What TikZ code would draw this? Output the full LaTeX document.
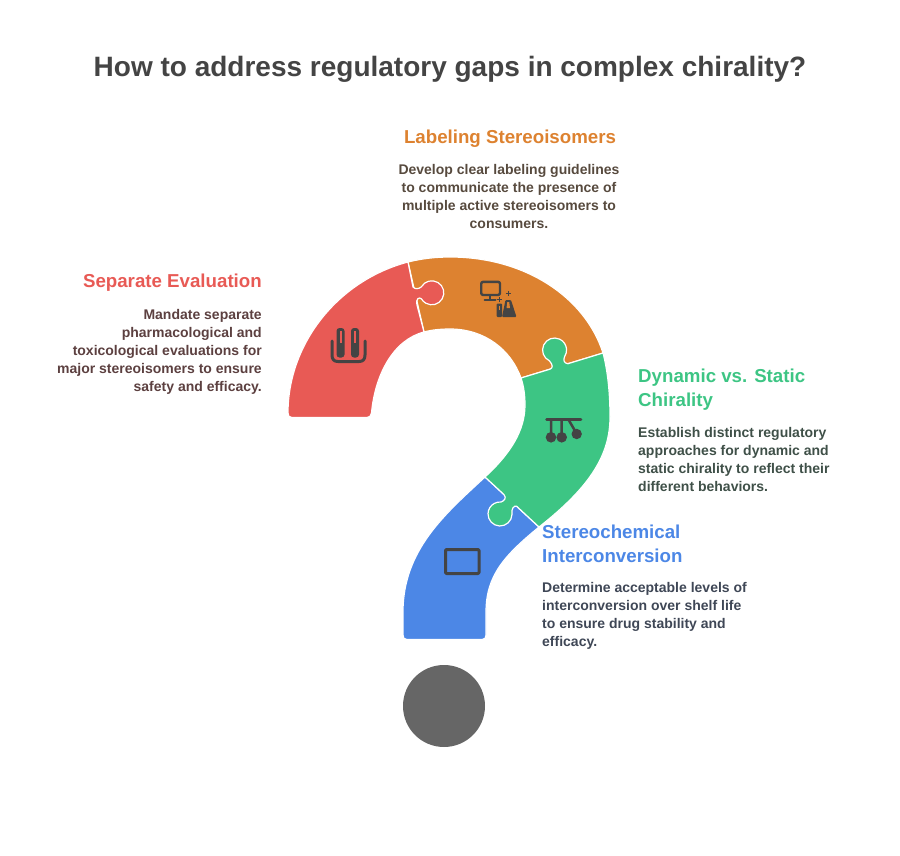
\documentclass[tikz,border=0pt]{standalone}
\usepackage{fontspec}
\setmainfont{Liberation Sans}
\definecolor{redpart}{HTML}{E85A55}
\definecolor{orangepart}{HTML}{DD8230}
\definecolor{greenpart}{HTML}{3DC584}
\definecolor{bluepart}{HTML}{4C87E6}
\definecolor{icondark}{HTML}{444444}
\definecolor{dotgray}{HTML}{666666}
\definecolor{redtext}{HTML}{5C4040}
\definecolor{orangetext}{HTML}{574A3E}
\definecolor{greentext}{HTML}{3F5048}
\definecolor{bluetext}{HTML}{3F4756}

\begin{document}
\begin{tikzpicture}[x=1pt,y=-1pt,
        piece/.style={draw=white,line width=1.2pt,line join=round},
        icon/.style={draw=icondark,line width=2.5pt,line cap=round,line join=round},
        iconfill/.style={fill=icondark,draw=none},
        heading/.style={inner sep=0pt,font=\fontsize{18.7}{24}\selectfont\bfseries},
        body/.style={inner sep=0pt,font=\fontsize{14}{18}\selectfont\bfseries}]
        \useasboundingbox (0,0) rectangle (900,856);

        \node[inner sep=0pt,text=icondark,font=\fontsize{28}{34}\selectfont\bfseries] (title) at (450,69) {How to address regulatory gaps in complex chirality?};

        % orange piece
        \draw[piece,fill=orangepart] (408,262) .. controls (422,258.5) and (436,257) .. (450,257)
            .. controls (525,257) and (585,297) .. (603,353)
            -- (521,378)
            .. controls (511,350) and (485,329) .. (450,329)
            .. controls (440,329) and (431,330) .. (424,332) -- cycle;

        % red piece
        \draw[piece,fill=redpart] (288,413) .. controls (288,344) and (337.4,280.7) .. (408,262)
            -- (413,287) .. controls (415,289.5) and (419,289) .. (421.4,286.8)
            arc[start angle=-150,end angle=150,radius=12]
            .. controls (419.5,297) and (415.5,298) .. (417,305)
            -- (424,332)
            .. controls (393,340) and (375,375) .. (371.5,413)
            .. controls (371,416) and (369.5,417.5) .. (367,417.5)
            -- (292,417.5) .. controls (289,417.5) and (288,416) .. (288,413) -- cycle;

        % blue piece
        \draw[piece,fill=bluepart] (485,477) -- (539,527)
            .. controls (505,555) and (486,575) .. (486,612)
            -- (486,635) .. controls (486,638) and (485,639.5) .. (482,639.5)
            -- (407,639.5) .. controls (404,639.5) and (403,638) .. (403,635)
            -- (403,612) .. controls (403,550) and (445,514) .. (485,477) -- cycle;

        % green piece
        \draw[piece,fill=greenpart] (521,378) -- (550,369.2)
            .. controls (553,368) and (553,365) .. (549.5,360.9)
            arc[start angle=115,end angle=393,radius=12]
            .. controls (563,360) and (564,363.5) .. (568,363.7)
            -- (603,353)
            .. controls (608,372) and (610,395) .. (610,417)
            .. controls (610,455) and (590,487) .. (539,527)
            -- (516.7,506.3)
            .. controls (514,505) and (511,509) .. (512,514.4)
            arc[start angle=2,end angle=275,radius=12]
            .. controls (504,501) and (507,498) .. (504,494.6)
            -- (485,477)
            .. controls (510,454) and (525,431) .. (525,405)
            .. controls (525,396) and (524,387) .. (521,378) -- cycle;

        \fill[fill=dotgray] (444,706) circle[radius=41];

        % test tube icon
        \draw[icon,line width=3pt] (332,341) -- (332,355) .. controls (332,359.5) and (334,361.5) .. (338,361.5) -- (359,361.5) .. controls (363,361.5) and (365,359.5) .. (365,355) -- (365,341);
        \fill[iconfill,rounded corners=3pt] (336.5,328) rectangle (344.5,357.5);
        \fill[iconfill,rounded corners=3pt] (351,328) rectangle (359,357.5);
        \fill[redpart] (339.5,331) rectangle (341.7,343);
        \fill[redpart] (354,331) rectangle (356.2,343);

        % monitor and flask icon
        \draw[icon,line width=2.4pt,rounded corners=2pt] (481.2,281.8) rectangle (500,295);
        \draw[icon,line width=2pt] (490,295) -- (490,299) (484.5,299.5) -- (495.5,299.5);
        \draw[icon,line width=1pt,line cap=butt] (496.5,299.5) -- (501.5,299.5) (499,297) -- (499,302)
            (505.8,293.3) -- (510.8,293.3) (508.3,291) -- (508.3,296);
        \fill[iconfill,rounded corners=1pt] (496.7,303.5) rectangle (502,317);
        \fill[orangepart] (498.5,305.5) rectangle (500.2,310);
        \fill[iconfill,rounded corners=1pt] (505.5,300) -- (511,300) -- (516.5,317) -- (502,317) -- cycle;
        \fill[orangepart] (507.3,302) -- (509.2,302) -- (510,308) -- (506.5,308) -- cycle;

        % pendulum icon
        \draw[icon] (546.5,419.3) -- (581,419.3);
        \draw[icon] (551,419.3) -- (551,437) (561.7,419.3) -- (561.7,437) (568.3,419.3) -- (576.7,433.7);
        \fill[iconfill] (551,437.3) circle[radius=5.3];
        \fill[iconfill] (561.7,437.3) circle[radius=5.3];
        \fill[iconfill] (576.7,434) circle[radius=5.2];

        % frame icon
        \draw[icon,line width=3pt,rounded corners=1pt] (445.5,549.5) rectangle (479,573.5);

        \node[heading,text=orangepart] (labelhead) at (510,138.5) {Labeling Stereoisomers};
        \node[body,text=orangetext,align=center] (labelbody) at (509,196) {Develop clear labeling guidelines\\to communicate the presence of\\multiple active stereoisomers to\\consumers.};

        \node[heading,text=redpart,anchor=east] (redhead) at (262,282.5) {Separate Evaluation};
        \node[body,text=redtext,align=right,anchor=east] (redbody) at (262,352) {Mandate separate\\pharmacological and\\toxicological evaluations for\\major stereoisomers to ensure\\safety and efficacy.};

        \node[heading,text=greenpart,align=left,anchor=west] (greenhead) at (638,390) {Dynamic vs. Static\\Chirality};
        \node[body,text=greentext,align=left,anchor=west] (greenbody) at (638,459) {Establish distinct regulatory\\approaches for dynamic and\\static chirality to reflect their\\different behaviors.};

        \node[heading,text=bluepart,align=left,anchor=west] (bluehead) at (542,544) {Stereochemical\\Interconversion};
        \node[body,text=bluetext,align=left,anchor=west] (bluebody) at (542,616) {Determine acceptable levels of\\interconversion over shelf life\\to ensure drug stability and\\efficacy.};
\end{tikzpicture}
\end{document}
